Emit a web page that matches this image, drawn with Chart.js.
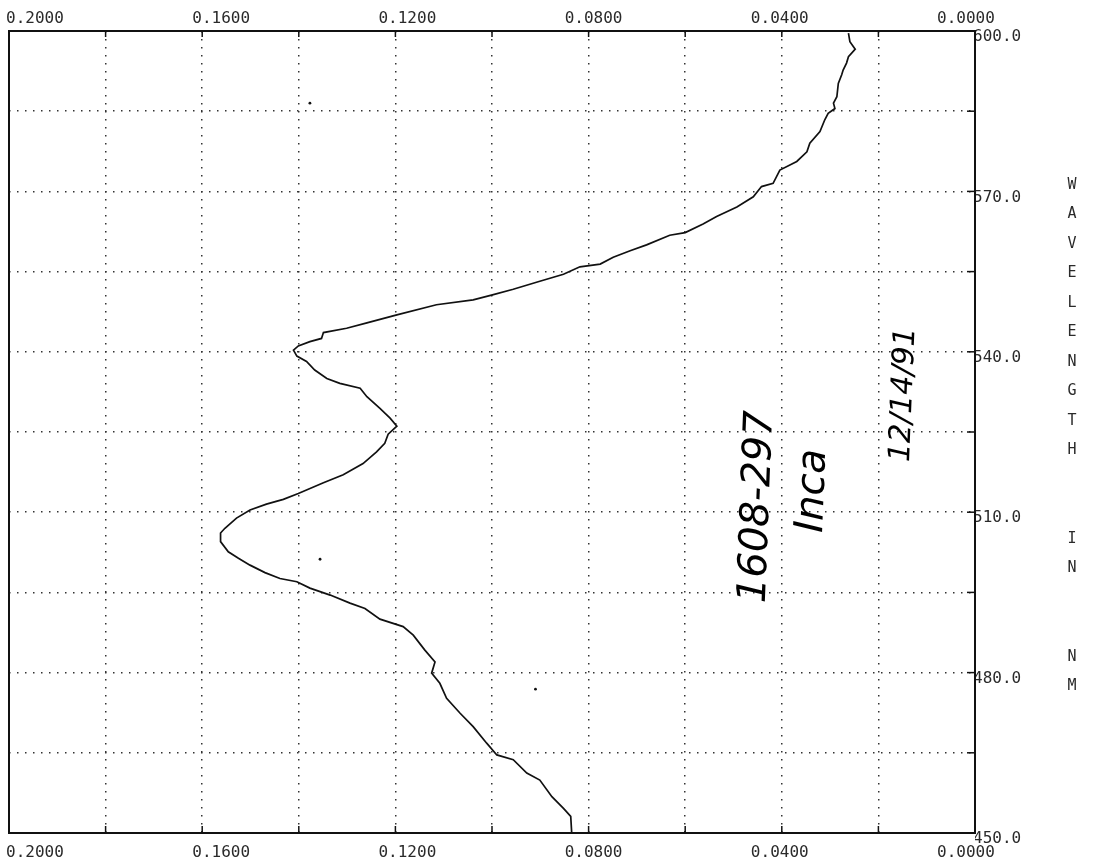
<!DOCTYPE html>
<html><head><meta charset="utf-8">
<script src="https://cdn.jsdelivr.net/npm/chart.js@4.4.0/dist/chart.umd.min.js"></script>
<style>html,body{margin:0;padding:0;background:#fff;}#wrap{width:1106px;height:865px;}</style>
</head><body><div id="wrap"><canvas id="c" width="1106" height="865"></canvas></div>
<script>
// ---- data ----
const wavelengthNm = [
  450.0, 453.1, 454.6, 456.8, 459.9, 461.2, 463.7, 464.6, 466.8, 469.9,
  472.4, 475.2, 478.0, 479.9, 482.0, 484.2, 487.0, 488.6, 490.0, 492.0,
  493.0, 494.5, 495.8, 497.0, 497.6, 498.7, 500.1, 501.4, 502.6, 504.5,
  506.1, 507.0, 508.9, 510.4, 511.5, 512.4, 513.5, 515.5, 517.0, 519.1,
  521.3, 522.9, 524.6, 526.1, 527.6, 529.4, 531.6, 533.2, 534.1, 535.0,
  536.6, 538.2, 539.2, 540.3, 541.1, 541.9, 542.5, 543.6, 544.4, 545.4,
  546.9, 548.8, 549.7, 550.6, 551.7, 553.2, 554.5, 555.9, 556.4, 557.7,
  558.9, 560.0, 561.8, 562.3, 563.9, 565.3, 567.1, 569.0, 570.9, 571.5,
  574.0, 575.6, 577.4, 579.0, 581.2, 583.4, 584.6, 585.5, 586.5, 587.7,
  590.2, 591.8, 592.7, 594.0, 595.2, 596.6, 598.0, 599.6
];
const absorbance = [
  0.0835, 0.0837, 0.0852, 0.0876, 0.0901, 0.0928, 0.0956, 0.0990, 0.1011, 0.1039,
  0.1066, 0.1094, 0.1108, 0.1125, 0.1118, 0.1139, 0.1163, 0.1184, 0.1232, 0.1263,
  0.1294, 0.1335, 0.1377, 0.1404, 0.1439, 0.1470, 0.1501, 0.1525, 0.1546, 0.1562,
  0.1562, 0.1553, 0.1529, 0.1501, 0.1467, 0.1432, 0.1401, 0.1349, 0.1308, 0.1267,
  0.1239, 0.1222, 0.1215, 0.1197, 0.1211, 0.1232, 0.1259, 0.1273, 0.1315, 0.1342,
  0.1367, 0.1384, 0.1404, 0.1411, 0.1401, 0.1377, 0.1353, 0.1349, 0.1301, 0.1259,
  0.1197, 0.1115, 0.1039, 0.1001, 0.0956, 0.0901, 0.0852, 0.0818, 0.0776, 0.0749,
  0.0714, 0.0680, 0.0632, 0.0600, 0.0563, 0.0535, 0.0493, 0.0459, 0.0442, 0.0418,
  0.0404, 0.0369, 0.0348, 0.0342, 0.0321, 0.0311, 0.0304, 0.0290, 0.0293, 0.0286,
  0.0283, 0.0276, 0.0273, 0.0266, 0.0262, 0.0248, 0.0259, 0.0262
];
const strayAbs = [0.1377, 0.1356, 0.0910];
const strayNm  = [586.5, 501.2, 476.9];
const xTickLabels = ['0.2000', '0.1600', '0.1200', '0.0800', '0.0400', '0.0000'];
const yTickLabels = ['450.0', '480.0', '510.0', '540.0', '570.0', '600.0'];
const axisTitle = 'WAVELENGTH  IN  NM';
const noteTexts = ['1608-297', 'Inca', '12/14/91'];
const noteAbs   = [0.0449, 0.0335, 0.0147];
const noteNm    = [511.0, 514.0, 532.0];

// ---- styling ----
const tickFont = { family: '"DejaVu Sans Mono", monospace', size: 16 };
const ink = '#2a2a2a';
const gridStyle = { color: '#333333', lineWidth: 1.5, drawTicks: false };
const dotted = { display: false, dash: [1.5, 6.5] };
// the plotter printed its x labels on a slightly compressed spacing
const labelMin = -0.00194, labelMax = 0.20558;

const curve = wavelengthNm.map((nm, i) => ({ x: absorbance[i], y: nm }));
const stray = strayNm.map((nm, i) => ({ x: strayAbs[i], y: nm }));

const fmtX = v => { const s = Math.abs(v).toFixed(4); return xTickLabels.includes(s) ? s : ''; };
const fmtY = v => { const s = v.toFixed(1); return yTickLabels.includes(s) ? s : ''; };
const noSidePad = s => { s.paddingLeft = 0; s.paddingRight = 0; };
const labelTicks = s => { s.ticks = xTickLabels.map(t => ({ value: Number(t) })); };

const labelAxis = (pos, pad, h) => ({
  type: 'linear', axis: 'x', position: pos, reverse: true, min: labelMin, max: labelMax,
  afterBuildTicks: labelTicks,
  ticks: { callback: fmtX, autoSkip: false, maxRotation: 0, minRotation: 0, font: tickFont, color: ink, padding: pad },
  grid: { display: false, drawTicks: false }, border: { display: false },
  afterFit: s => { s.height = h; noSidePad(s); }
});

const decor = {
  id: 'decor',
  afterDraw(chart) {
    const { ctx, chartArea: a, scales } = chart;
    const seg = (x1, y1, x2, y2) => { ctx.beginPath(); ctx.moveTo(x1, y1); ctx.lineTo(x2, y2); ctx.stroke(); };
    ctx.save();
    ctx.strokeStyle = '#111';
    ctx.lineWidth = 2;
    ctx.strokeRect(a.left, a.top, a.right - a.left, a.bottom - a.top);
    ctx.lineWidth = 1.5;
    scales.x.ticks.forEach(t => {
      const px = scales.x.getPixelForValue(t.value);
      seg(px, a.top, px, a.top + 6);
      seg(px, a.bottom, px, a.bottom - 7);
    });
    scales.y.ticks.forEach(t => {
      const py = scales.y.getPixelForValue(t.value);
      seg(a.right, py, a.right - 8, py);
    });
    // stacked axis title
    ctx.fillStyle = ink;
    ctx.font = '15px "DejaVu Sans Mono", monospace';
    ctx.textAlign = 'center';
    ctx.textBaseline = 'middle';
    [...axisTitle].forEach((ch, i) => { if (ch !== ' ') ctx.fillText(ch, a.right + 97, 185 + i * 29.5); });
    // handwritten notes
    const sizes = [40, 40, 30];
    ctx.fillStyle = '#000';
    noteTexts.forEach((txt, i) => {
      const px = scales.x.getPixelForValue(noteAbs[i]);
      const py = scales.y.getPixelForValue(noteNm[i]);
      ctx.save();
      ctx.translate(px, py);
      ctx.rotate(-Math.PI / 2 + 0.04);
      ctx.font = 'italic ' + sizes[i] + 'px "DejaVu Sans", sans-serif';
      ctx.fillText(txt, 0, 0);
      ctx.restore();
    });
    ctx.restore();
  }
};

new Chart(document.getElementById('c'), {
  type: 'scatter',
  data: {
    datasets: [
      { data: curve, showLine: true, borderColor: '#111', borderWidth: 1.7, pointRadius: 0, tension: 0 },
      { data: stray, showLine: false, pointRadius: 1.4, backgroundColor: '#111', borderWidth: 0 }
    ]
  },
  options: {
    responsive: false,
    animation: false,
    layout: { padding: { left: 9, right: 0, top: 0, bottom: 0 } },
    plugins: { legend: { display: false }, tooltip: { enabled: false } },
    scales: {
      x: {
        type: 'linear', position: 'bottom', reverse: true, min: 0, max: 0.2,
        ticks: { stepSize: 0.02, display: false },
        grid: gridStyle, border: dotted,
        afterFit: s => { s.height = 0; noSidePad(s); }
      },
      xLabBottom: labelAxis('bottom', 10, 32),
      xLabTop: labelAxis('top', 3, 31),
      y: {
        type: 'linear', position: 'right', min: 450, max: 600,
        ticks: { stepSize: 15, callback: fmtY, autoSkip: false, font: tickFont, color: ink, padding: -2, labelOffset: 6 },
        grid: gridStyle, border: dotted,
        afterFit: s => { s.width = 131; s.paddingTop = 0; s.paddingBottom = 0; }
      }
    }
  },
  plugins: [decor]
});
</script>
</body></html>
